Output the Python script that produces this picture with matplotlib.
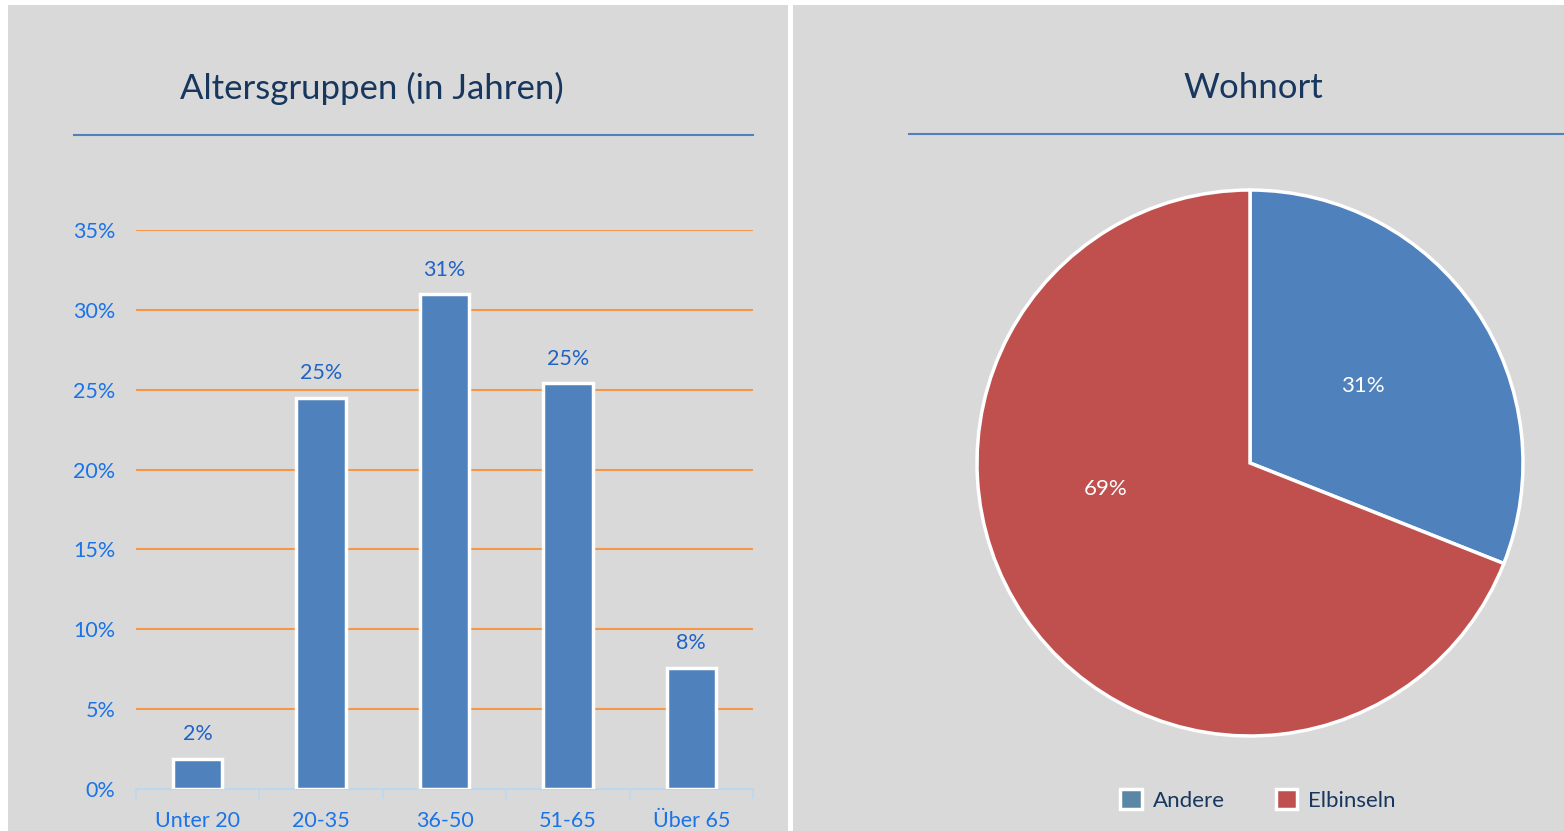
import matplotlib.pyplot as plt
from matplotlib.patches import Rectangle, Patch
from matplotlib.lines import Line2D
import numpy as np

# Daten
altersgruppen = ['Unter 20', '20-35', '36-50', '51-65', 'Über 65']
anteile = [1.9, 24.5, 31.0, 25.4, 7.6]
anteil_labels = ['2%', '25%', '31%', '25%', '8%']
wohnort = ['Andere', 'Elbinseln']
wohnort_anteile = [31, 69]
yticks = [0, 5, 10, 15, 20, 25, 30, 35]

W, H = 1564, 831
plt.rcParams['font.family'] = ['Lato', 'DejaVu Sans']

fig = plt.figure(figsize=(W / 100, H / 100), dpi=100)
fig.patch.set_facecolor('white')

def fx(x):
    return x / W

def fy(y):
    return 1 - y / H

# Hintergrund der beiden Felder
grau = '#D9D9D9'
fig.add_artist(Rectangle((fx(8), 0), fx(788 - 8), fy(5), transform=fig.transFigure,
                         facecolor=grau, edgecolor='none', zorder=0))
fig.add_artist(Rectangle((fx(793), 0), fx(W - 793), fy(5), transform=fig.transFigure,
                         facecolor=grau, edgecolor='none', zorder=0))

navy = '#17375E'
# Titel + Linien
fig.text(fx(372), fy(88), 'Altersgruppen (in Jahren)', ha='center', va='center',
         fontsize=25, color=navy)
fig.text(fx(1253), fy(88), 'Wohnort', ha='center', va='center', fontsize=25, color=navy)
fig.add_artist(Line2D([fx(74), fx(753)], [fy(135), fy(135)], color='#4F81BD', lw=1.5))
fig.add_artist(Line2D([fx(909), fx(W)], [fy(134), fy(134)], color='#4F81BD', lw=1.5))

# Balkendiagramm
ax = fig.add_axes([fx(136), fy(789), fx(753 - 136), fy(230) - fy(789)])
ax.set_facecolor('none')
x = np.arange(len(altersgruppen))
for t in yticks[1:]:
    ax.axhline(t, color='#F79646', lw=1.5, zorder=1)
balken = ax.bar(x, anteile, width=0.4, color='#4F81BD', edgecolor='white', linewidth=2.5, zorder=3)
for b, lab in zip(balken, anteil_labels):
    ax.text(b.get_x() + b.get_width() / 2, b.get_height() + 0.9, lab, ha='center', va='bottom',
            fontsize=15.5, color='#1F63C6')
ax.set_xlim(-0.5, len(altersgruppen) - 0.5)
ax.set_ylim(0, 35)
ax.set_yticks(yticks)
ax.set_yticklabels([f'{t}%' for t in yticks])
ax.set_xticks(x)
ax.set_xticklabels(altersgruppen)
ax.set_xticks(np.arange(-0.5, len(altersgruppen)), minor=True)
ax.tick_params(axis='x', which='major', length=0, pad=16, labelsize=15.5, labelcolor='#1A73E8')
ax.tick_params(axis='x', which='minor', length=7, color='#BDD7EE', width=1.2)
ax.tick_params(axis='y', length=0, pad=15, labelsize=15.5, labelcolor='#1A73E8')
for s in ['top', 'right', 'left']:
    ax.spines[s].set_visible(False)
ax.spines['bottom'].set_color('#BDD7EE')
ax.spines['bottom'].set_linewidth(1.5)

# Kreisdiagramm
r = 273
ax2 = fig.add_axes([fx(1250 - r), fy(463 + r), fx(2 * r), fy(463 - r) - fy(463 + r)])
farben = ['#4F81BD', '#C0504D']
wedges, texts, autotexts = ax2.pie(wohnort_anteile, colors=farben, startangle=90, counterclock=False,
                                   autopct='%d%%', pctdistance=0.5,
                                   wedgeprops=dict(edgecolor='white', linewidth=2.5),
                                   textprops=dict(color='white', fontsize=16))
autotexts[1].set_position((-0.53, -0.095))
ax2.set_xlim(-1.0, 1.0)
ax2.set_ylim(-1.0, 1.0)

handles = [Patch(facecolor='#5B87A6', edgecolor='white', linewidth=2.5, label=wohnort[0]),
           Patch(facecolor='#C0504D', edgecolor='white', linewidth=2.5, label=wohnort[1])]
leg = fig.legend(handles=handles, loc='center', bbox_to_anchor=(fx(1258), fy(800)), ncol=2,
                 frameon=False, fontsize=16, handlelength=0.95, handleheight=0.95,
                 columnspacing=2.3, handletextpad=0.5)
for t in leg.get_texts():
    t.set_color(navy)

fig.savefig('out.png', dpi=100, facecolor=fig.get_facecolor())
